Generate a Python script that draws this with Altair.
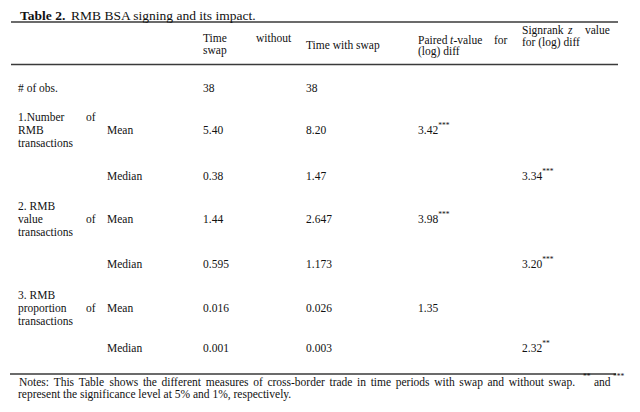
import altair as alt
import pandas as pd

FONT = "Liberation Serif"
INK = "#111111"
OFF = 8  # page margin: layout below is given in page pixels
FS = 11.5

# ---------------- data ----------------
title_bold = "Table 2."
title_rest = "RMB BSA signing and its impact."

obs_label = "# of obs."
obs_values = ["38", "38"]

measure_lines = [
    ["1.Number", "RMB", "transactions"],
    ["2. RMB", "value", "transactions"],
    ["3. RMB", "proportion", "transactions"],
]
of_line = [0, 1, 1]          # which line of the label carries the justified "of"
stats = ["Mean", "Median"]
without_swap = [["5.40", "0.38"], ["1.44", "0.595"], ["0.016", "0.001"]]
with_swap = [["8.20", "1.47"], ["2.647", "1.173"], ["0.026", "0.003"]]
t_values = ["3.42", "3.98", "1.35"]
t_stars = ["***", "***", ""]
z_values = ["3.34", "3.20", "2.32"]
z_stars = ["***", "***", "**"]

note_main = ("Notes: This Table shows the different measures of cross-border trade "
             "in time periods with swap and without swap.")
note_and = "and"
note_line2 = "represent the significance level at 5% and 1%, respectively."

# ---------------- text metrics (Times-compatible widths, 1/1000 em) ----------------
_W = {" ": 250, ".": 250, ",": 250, ":": 278, "-": 333, "%": 833, "#": 500, "(": 333, ")": 333}
_W.update({c: 500 for c in "0123456789"})
_W.update(dict(zip("ABCDEFGHIJKLMNOPQRSTUVWXYZ",
                   [722, 667, 667, 722, 611, 556, 722, 722, 333, 389, 722, 611, 889, 722,
                    722, 556, 722, 667, 556, 611, 722, 722, 944, 722, 722, 611])))
_W.update(dict(zip("abcdefghijklmnopqrstuvwxyz",
                   [444, 500, 444, 500, 444, 333, 500, 500, 278, 278, 500, 278, 778, 500,
                    500, 500, 500, 333, 389, 278, 500, 500, 722, 500, 500, 444])))


def text_width(s, size=FS):
    return sum(_W.get(c, 500) for c in s) / 1000.0 * size


# ---------------- layout (scale ranges) ----------------
COL_X = {
    "c_label": 18, "c_title": 20, "c_title2": 71, "c_of": 86,
    "c_stat": 107, "c_wo": 203, "c_wo2": 256, "c_w": 306, "c_t": 418,
    "c_t_it": 450, "c_t_val": 453.5, "c_t_for": 494, "c_z": 522,
    "c_z_it": 568, "c_z_val": 585, "c_note_ss": 583, "c_note_and": 594,
    "c_note_sss": 613,
}
# justified first note line: from x=19 to x=575
note_words = note_main.split(" ")
nat = [text_width(w) for w in note_words]
gap = (575 - 19 - sum(nat)) / (len(note_words) - 1)
xpos = 19.0
for k, w in enumerate(note_words):
    COL_X[f"c_nw{k}"] = xpos
    xpos += nat[k] + gap

ROW_Y = {
    "title": 15.5, "h_sign": 31, "h_time": 39, "h_paired": 40.5,
    "h_sign2": 42.5, "h_tws": 45.5, "h_swap": 51, "h_log": 52,
    "obs": 89, "m1": 131, "med1": 177, "m2": 220, "med2": 265,
    "m3": 309, "med3": 349, "note_sup": 377, "note1": 383, "note2": 395,
}
col_keys = sorted(COL_X, key=lambda k: COL_X[k])
row_keys = sorted(ROW_Y, key=lambda k: ROW_Y[k])
col_idx = {k: i for i, k in enumerate(col_keys)}
row_idx = {k: i for i, k in enumerate(row_keys)}

xscale = alt.Scale(domain=list(range(len(col_keys))),
                   range=[COL_X[k] - OFF for k in col_keys], zero=False, nice=False)
yscale = alt.Scale(domain=list(range(len(row_keys))),
                   range=[ROW_Y[k] - OFF for k in row_keys], zero=False, nice=False)


def frame(cells):
    return pd.DataFrame({
        "text": [c[0] for c in cells],
        "xi": [col_idx[c[1]] for c in cells],
        "yi": [row_idx[c[2]] for c in cells],
    })


# ---------------- cells ----------------
body = [
    ("Time", "c_wo", "h_time"), ("without", "c_wo2", "h_time"), ("swap", "c_wo", "h_swap"),
    ("Time with swap", "c_w", "h_tws"),
    ("Paired", "c_t", "h_paired"), ("-value", "c_t_val", "h_paired"),
    ("for", "c_t_for", "h_paired"), ("(log) diff", "c_t", "h_log"),
    ("Signrank", "c_z", "h_sign"), ("value", "c_z_val", "h_sign"),
    ("for (log) diff", "c_z", "h_sign2"),
    (obs_label, "c_label", "obs"), (obs_values[0], "c_wo", "obs"), (obs_values[1], "c_w", "obs"),
]
italic = [("t", "c_t_it", "h_paired"), ("z", "c_z_it", "h_sign")]
multiline = []
sup_vals = []
mean_rows = ["m1", "m2", "m3"]
med_rows = ["med1", "med2", "med3"]
for i in range(3):
    multiline.append(("\n".join(measure_lines[i]), "c_label", mean_rows[i]))
    of_txt = ["", "", ""]
    of_txt[of_line[i]] = "of"
    multiline.append(("\n".join(of_txt), "c_of", mean_rows[i]))
    for j, r in enumerate([mean_rows[i], med_rows[i]]):
        body.append((stats[j], "c_stat", r))
        body.append((without_swap[i][j], "c_wo", r))
        body.append((with_swap[i][j], "c_w", r))
    body.append((t_values[i], "c_t", mean_rows[i]))
    if t_stars[i]:
        sup_vals.append((t_stars[i], "c_t", mean_rows[i]))
    body.append((z_values[i], "c_z", med_rows[i]))
    if z_stars[i]:
        sup_vals.append((z_stars[i], "c_z", med_rows[i]))

notes = [(w, f"c_nw{k}", "note1") for k, w in enumerate(note_words)]
notes += [(note_and, "c_note_and", "note1"), (note_line2, "c_label", "note2")]
note_sup = [("**", "c_note_ss", "note_sup"), ("***", "c_note_sss", "note_sup")]


def text_layer(cells, **kw):
    base = dict(align="left", baseline="middle", font=FONT, color=INK, fontSize=FS)
    base.update(kw)
    return alt.Chart(frame(cells)).mark_text(**base).encode(
        x=alt.X("xi:Q", scale=xscale, axis=None),
        y=alt.Y("yi:Q", scale=yscale, axis=None),
        text="text:N",
    )


def rule(x1, x2, y):
    return alt.Chart(pd.DataFrame({"a": [0]})).mark_rule(color="#3a3a3a", strokeWidth=1.4).encode(
        x=alt.value(x1 - OFF), x2=alt.value(x2 - OFF), y=alt.value(y - OFF))


LH = 12.7
layers = [
    rule(11, 618, 22), rule(11, 618, 64.5), rule(10, 616, 374),
    text_layer([(title_bold, "c_title", "title")], fontSize=13.5, fontWeight="bold"),
    text_layer([(title_rest, "c_title2", "title")], fontSize=13.5),
    text_layer(body),
    text_layer(italic, fontStyle="italic"),
    text_layer(multiline, lineBreak="\n", lineHeight=LH, dy=-LH),
    text_layer(sup_vals, fontSize=7.5, dx=text_width("3.42"), dy=-5),
    text_layer(notes),
    text_layer(note_sup, fontSize=7.5),
]

chart = alt.layer(*layers).properties(
    width=624, height=396, padding=0, autosize=alt.AutoSizeParams(type="none"),
    background="white",
).configure_view(stroke=None)

chart.save("out.html", embed_options={"renderer": "svg", "actions": False})
